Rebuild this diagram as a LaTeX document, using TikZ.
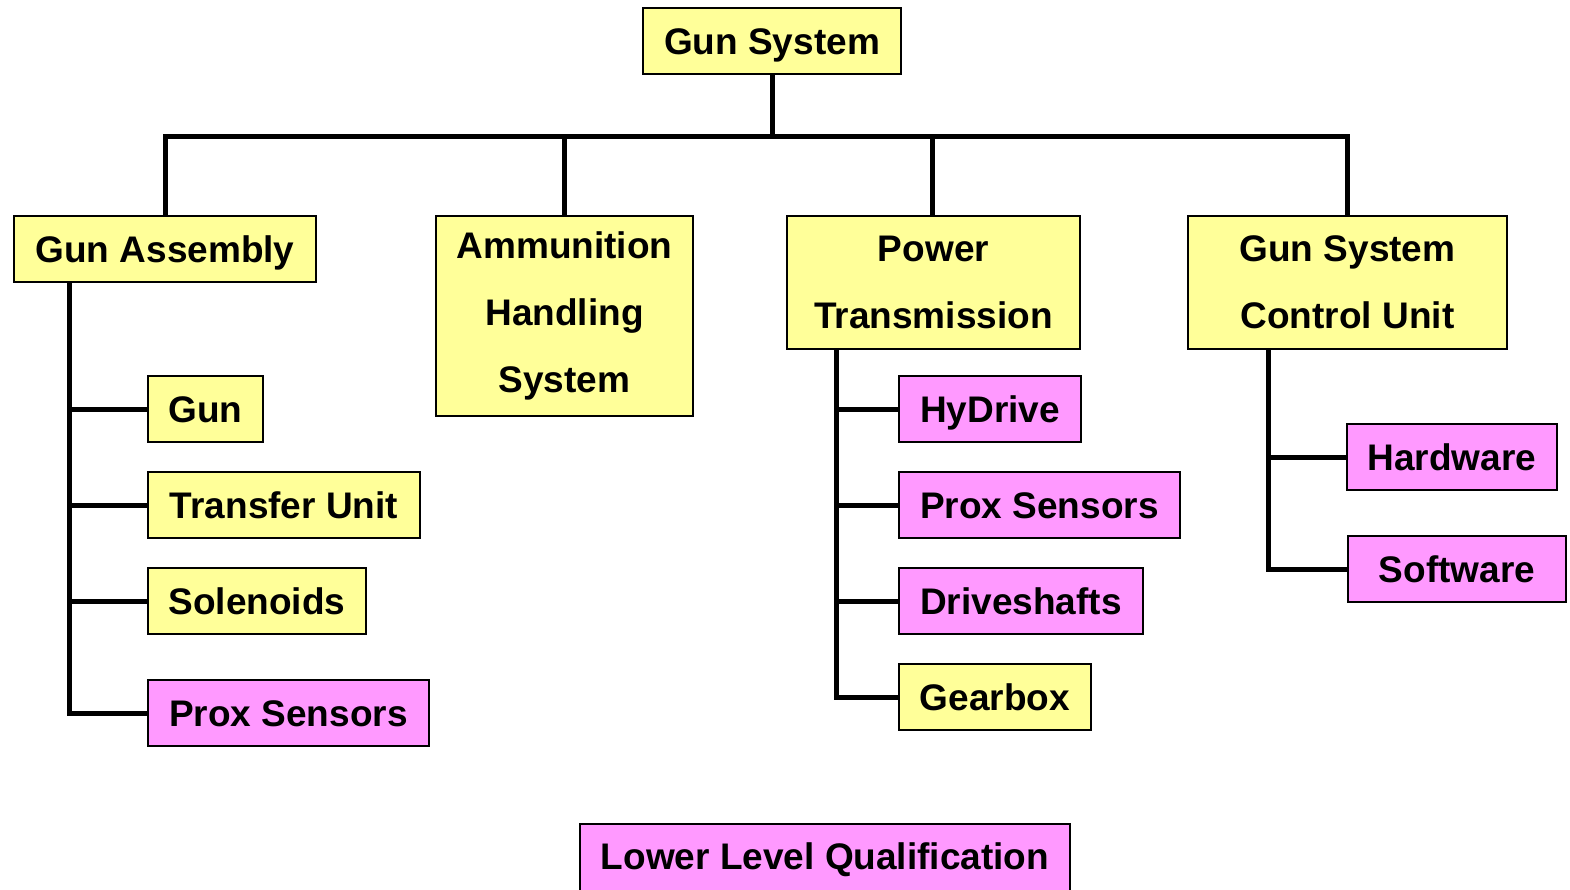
\documentclass[tikz,border=0pt]{standalone}
\usepackage{fontspec}
\setmainfont{Liberation Sans}
\definecolor{boxyellow}{HTML}{FFFF99}
\definecolor{boxpink}{HTML}{FF99FF}
\begin{document}
\begin{tikzpicture}[x=1pt,y=-1pt,
  base/.style={draw=black, line width=2pt, inner sep=0pt, align=center,
    font=\fontsize{37}{67}\selectfont\bfseries},
  one/.style={text height=26.5pt, text depth=0pt},
  ybox/.style={base, fill=boxyellow},
  pbox/.style={base, fill=boxpink},
  conn/.style={line width=5pt, line join=miter}]
\useasboundingbox (0,0) rectangle (1570,889);
\clip (0,0) rectangle (1570,889);
% top
\node[ybox, one, minimum width=258pt, minimum height=66pt] (gs) at (772,41) {Gun System};
% level 1
\node[ybox, one, minimum width=302pt, minimum height=66pt] (ga) at (165,249) {Gun Assembly};
\node[ybox, minimum width=257pt, minimum height=200pt] (ah) at (564.5,316) {Ammunition\\Handling\\System};
\node[ybox, minimum width=293pt, minimum height=133pt] (pt) at (933.5,282.5) {Power\\Transmission};
\node[ybox, minimum width=319pt, minimum height=133pt] (cu) at (1347.5,282.5) {Gun System\\Control Unit};
% gun assembly children
\node[ybox, one, minimum width=115pt, minimum height=66pt] (gun) at (205.5,409) {Gun};
\node[ybox, one, minimum width=272pt, minimum height=66pt] (tu) at (284,505) {Transfer Unit};
\node[ybox, one, minimum width=218pt, minimum height=66pt] (sol) at (257,601) {Solenoids};
\node[pbox, one, minimum width=281pt, minimum height=66pt] (ps1) at (288.5,713) {Prox Sensors};
% power transmission children
\node[pbox, one, minimum width=182pt, minimum height=66pt] (hy) at (990,409) {HyDrive};
\node[pbox, one, minimum width=281pt, minimum height=66pt] (ps2) at (1039.5,505) {Prox Sensors};
\node[pbox, one, minimum width=244pt, minimum height=66pt] (ds) at (1021,601) {Driveshafts};
\node[ybox, one, minimum width=192pt, minimum height=66pt] (gb) at (995,697) {Gearbox};
% control unit children
\node[pbox, one, minimum width=210pt, minimum height=66pt] (hw) at (1452,457) {Hardware};
\node[pbox, one, minimum width=218pt, minimum height=66pt] (sw) at (1457,569) {Software};
% legend
\node[pbox, minimum width=490pt, minimum height=72pt] (llq) at (825,860) {Lower Level Qualification};
% connectors
\coordinate (bus) at (772,136);
\draw[conn] (gs.south) -- (bus);
\draw[conn] (ga.north) |- (bus);
\draw[conn] (ah.north) |- (bus);
\draw[conn] (pt.north -| 932,0) |- (bus);
\draw[conn] (cu.north) |- (bus);
\coordinate (gat) at (69,282);
\draw[conn] (gat) |- (gun.west);
\draw[conn] (gat) |- (tu.west);
\draw[conn] (gat) |- (sol.west);
\draw[conn] (gat) |- (ps1.west);
\coordinate (ptt) at (836,349);
\draw[conn] (ptt) |- (hy.west);
\draw[conn] (ptt) |- (ps2.west);
\draw[conn] (ptt) |- (ds.west);
\draw[conn] (ptt) |- (gb.west);
\coordinate (cut) at (1268,349);
\draw[conn] (cut) |- (hw.west);
\draw[conn] (cut) |- (sw.west);
\end{tikzpicture}
\end{document}
